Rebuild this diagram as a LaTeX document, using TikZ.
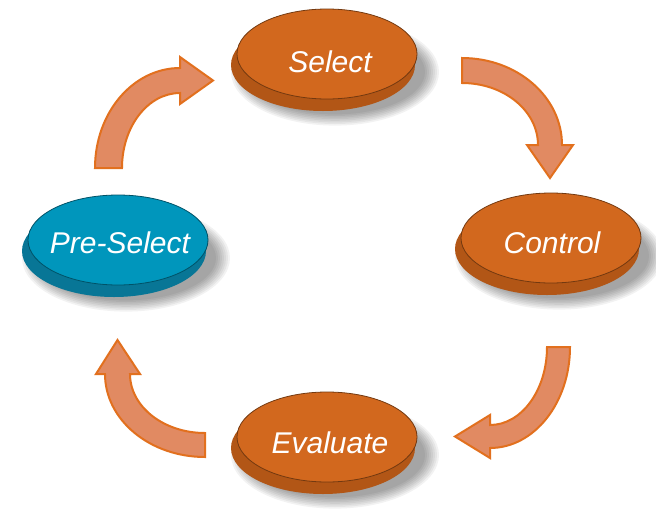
\documentclass[tikz,border=0pt]{standalone}
\usepackage{fontspec}
\setmainfont{Liberation Sans}
\definecolor{orFace}{RGB}{210,104,30}
\definecolor{orBase}{RGB}{178,86,22}
\definecolor{blFace}{RGB}{0,150,188}
\definecolor{blBase}{RGB}{8,118,150}
\definecolor{arFill}{RGB}{225,138,98}
\definecolor{arLine}{RGB}{226,112,30}
\tikzset{
  x=1pt, y=-1pt,
  bigarrow/.style={fill=arFill, draw=arLine, line width=2pt, line join=miter},
  disctext/.style={text=white, font=\fontsize{30}{36}\selectfont\itshape, inner sep=0pt},
  softshadow/.style={fill=black, fill opacity=0.05},
}
\newcommand{\mydisc}[5]{% name, x, y, face colour, base colour
  \foreach \r in {-2,0,2,4,6,8,10,12} {
    \fill[softshadow] (#2+8,#3+18) ellipse[x radius=92+\r, y radius=44+\r*0.8];
  }
  \fill[#5] (#2-4,#3+11) ellipse[x radius=92, y radius=46];
  \fill[#4, draw=black!45!#4, line width=0.8pt] (#2,#3) ellipse[x radius=90, y radius=45];
}
\begin{document}
\begin{tikzpicture}
\useasboundingbox (0,0) rectangle (656,512);
\fill[white] (0,0) rectangle (656,512);
% discs
\mydisc{sel}{327}{54}{orFace}{orBase}
\mydisc{ctl}{551}{238}{orFace}{orBase}
\mydisc{eva}{327}{437}{orFace}{orBase}
\mydisc{pre}{118}{240}{blFace}{blBase}
\node[disctext] (select) at (330,62) {Select};
\node[disctext] (control) at (552,243) {Control};
\node[disctext] (evaluate) at (330,443) {Evaluate};
\node[disctext] (preselect) at (120,243) {Pre-Select};
% arrows
% Pre-Select -> Select
\draw[bigarrow] (95,168) arc[start angle=180, end angle=270, x radius=85, y radius=100]
  -- (180,57) -- (213,80.5) -- (180,104) -- (180,93)
  arc[start angle=270, end angle=180, x radius=58, y radius=75] -- cycle;
% Select -> Control
\draw[bigarrow] (462,58) arc[start angle=-90, end angle=0, x radius=100, y radius=87]
  -- (573,145) -- (550,178) -- (527,145) -- (538,145)
  arc[start angle=0, end angle=-90, x radius=76, y radius=62] -- cycle;
% Control -> Evaluate
\draw[bigarrow] (570,347) arc[start angle=0, end angle=90, x radius=80, y radius=101]
  -- (490,458) -- (455,436.5) -- (490,415) -- (490,425)
  arc[start angle=90, end angle=0, x radius=57, y radius=78] -- cycle;
% Evaluate -> Pre-Select
\draw[bigarrow] (205,457) arc[start angle=90, end angle=180, x radius=100, y radius=83]
  -- (96,374) -- (117.5,340) -- (140,374) -- (130,374)
  arc[start angle=180, end angle=90, x radius=75, y radius=59] -- cycle;
\end{tikzpicture}
\end{document}
